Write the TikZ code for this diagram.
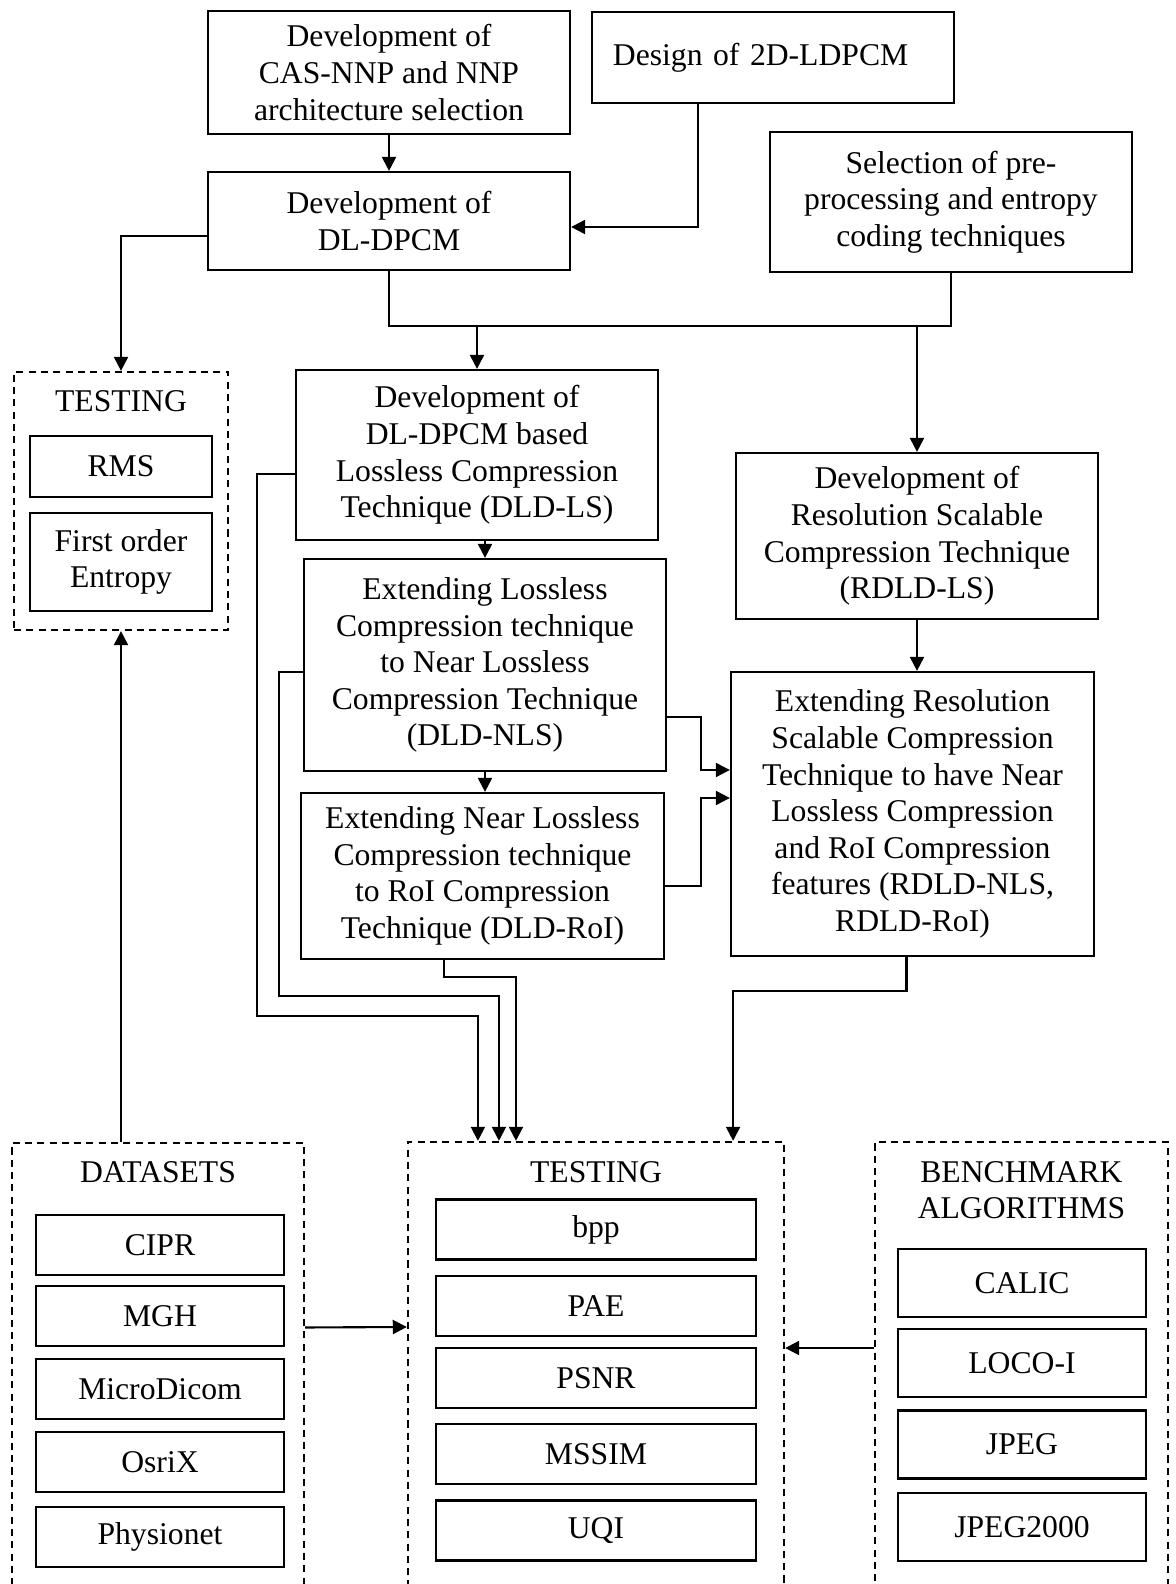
\documentclass[tikz,border=0pt]{standalone}
\usepackage{fontspec}
\setmainfont{Liberation Serif}
\usetikzlibrary{arrows.meta}

\begin{document}
\begin{tikzpicture}[
    x=0.01cm, y=-0.01cm,
    line width=0.6pt,
    font=\fontsize{9}{10.4}\selectfont,
    stage/.style={draw, rectangle, align=center, minimum width=3.62cm, inner sep=0pt},
    group/.style={draw, dash pattern=on 2pt off 1.5pt, rectangle, inner sep=0pt},
    item/.style={draw, rectangle, align=center, inner sep=0pt, minimum height=0.6cm},
    flow/.style={-{Triangle[length=4pt, width=4pt]}}
]
    \useasboundingbox (0,0) rectangle (1175,1584);

    % Top row
    \node[stage, minimum height=1.23cm] (cas) at (389,72.5) {Development of\\CAS-NNP and NNP\\architecture selection};
    \node[stage, minimum height=0.91cm, align=left, text width=3.2cm, inner xsep=0.21cm] (design) at (773,57.5) {Design of 2D-LDPCM};
    \node[stage, minimum height=0.98cm] (dldpcm) at (389,221) {Development of\\DL-DPCM};
    \node[stage, minimum height=1.40cm] (select) at (951,202) {Selection of pre-\\processing and entropy\\coding techniques};
    \coordinate (bus) at (0,326);

    % Small testing group
    \node[group, minimum width=2.14cm, minimum height=2.58cm] (testL) at (121,501) {};
    \node (testLhead) at (121,401) {TESTING};
    \node[item, minimum width=1.82cm, minimum height=0.61cm] (rms) at (121,466.5) {RMS};
    \node[item, minimum width=1.82cm, minimum height=0.98cm] (entropy) at (121,562) {First order\\Entropy};

    % Lossless branch
    \node[stage, minimum height=1.70cm] (dldls) at (477,455) {Development of\\DL-DPCM based\\Lossless Compression\\Technique (DLD-LS)};
    \node[stage, minimum height=2.12cm] (dldnls) at (485,665) {Extending Lossless\\Compression technique\\to Near Lossless\\Compression Technique\\(DLD-NLS)};
    \node[stage, minimum height=1.66cm] (dldroi) at (482.5,876) {Extending Near Lossless\\Compression technique\\to RoI Compression\\Technique (DLD-RoI)};

    % Scalable branch
    \node[stage, minimum height=1.66cm] (rdldls) at (917,536) {Development of\\Resolution Scalable\\Compression Technique\\(RDLD-LS)};
    \node[stage, minimum width=3.63cm, minimum height=2.84cm] (rdldnls) at (912.5,814) {Extending Resolution\\Scalable Compression\\Technique to have Near\\Lossless Compression\\and RoI Compression\\features (RDLD-NLS,\\RDLD-RoI)};

    % Datasets
    \node[group, minimum width=2.92cm, minimum height=4.57cm] (datasets) at (158,1371.5) {};
    \node (datasetshead) at (158,1172) {DATASETS};
    \node[item, minimum width=2.48cm] (cipr) at (160,1245) {CIPR};
    \node[item, minimum width=2.48cm] (mgh) at (160,1316) {MGH};
    \node[item, minimum width=2.48cm] (microdicom) at (160,1389) {MicroDicom};
    \node[item, minimum width=2.48cm] (osrix) at (160,1462) {OsriX};
    \node[item, minimum width=2.48cm] (physionet) at (160,1537) {Physionet};

    % Testing metrics
    \node[group, minimum width=3.76cm, minimum height=4.58cm] (testB) at (596,1371) {};
    \node (testBhead) at (596,1172) {TESTING};
    \node[item, minimum width=3.20cm] (bpp) at (596,1229.5) {bpp};
    \node[item, minimum width=3.20cm] (pae) at (596,1306) {PAE};
    \node[item, minimum width=3.20cm] (psnr) at (596,1378) {PSNR};
    \node[item, minimum width=3.20cm] (mssim) at (596,1454) {MSSIM};
    \node[item, minimum width=3.20cm] (uqi) at (596,1530.5) {UQI};

    % Benchmarks
    \node[group, minimum width=2.93cm, minimum height=4.58cm] (bench) at (1021.5,1371) {};
    \node[align=center] (benchhead) at (1021.5,1190) {BENCHMARK\\ALGORITHMS};
    \node[item, minimum width=2.48cm, minimum height=0.68cm] (calic) at (1022,1283) {CALIC};
    \node[item, minimum width=2.48cm, minimum height=0.68cm] (loco) at (1022,1363) {LOCO-I};
    \node[item, minimum width=2.48cm, minimum height=0.68cm] (jpeg) at (1022,1444.5) {JPEG};
    \node[item, minimum width=2.48cm, minimum height=0.68cm] (jpegk) at (1022,1527) {JPEG2000};

    % Connectors
    \draw[flow] (cas.south) -- (dldpcm.north);
    \draw[flow] ([xshift=-0.75cm]design.south) |- ([yshift=-0.06cm]dldpcm.east);
    \draw[flow] ([yshift=-0.15cm]dldpcm.west) -| (testL.north);
    \draw (dldpcm.south) |- (bus -| select.south) -- (select.south);
    \draw[flow] (bus -| dldls.north) -- (dldls.north);
    \draw[flow] (bus -| rdldls.north) -- (rdldls.north);
    \draw[flow] (dldls.south -| dldnls.north) -- (dldnls.north);
    \draw[flow] (dldnls.south) -- (dldnls.south |- dldroi.north);
    \draw[flow] (rdldls.south) -- (rdldls.south |- rdldnls.north);
    \draw[flow] ([yshift=-0.52cm]dldnls.east) -- ++(34,0) |- ([yshift=0.44cm]rdldnls.west);
    \draw[flow] ([yshift=-0.1cm]dldroi.east) -- ++(36,0) |- ([yshift=0.16cm]rdldnls.west);

    % Results into testing
    \draw[flow] ([yshift=-0.19cm]dldls.west) -| ++(-38,542) -| ([xshift=-1.18cm]testB.north);
    \draw[flow] ([yshift=-0.07cm]dldnls.west) -| ++(-24,324) -| ([xshift=-0.97cm]testB.north);
    \draw[flow] ([xshift=-0.385cm]dldroi.south) -- ++(0,17) -| ([xshift=-0.8cm]testB.north);
    \draw[flow] ([xshift=-0.06cm]rdldnls.south) -- ++(0,34) -| ([xshift=1.37cm]testB.north);
    \draw[flow] (datasets.north -| testL.south) -- (testL.south);
    \draw[flow] ([yshift=0.44cm]datasets.east) -- ([yshift=0.44cm]testB.west);
    \draw[flow] ([yshift=0.23cm]bench.west) -- ([yshift=0.23cm]testB.east);
\end{tikzpicture}
\end{document}
